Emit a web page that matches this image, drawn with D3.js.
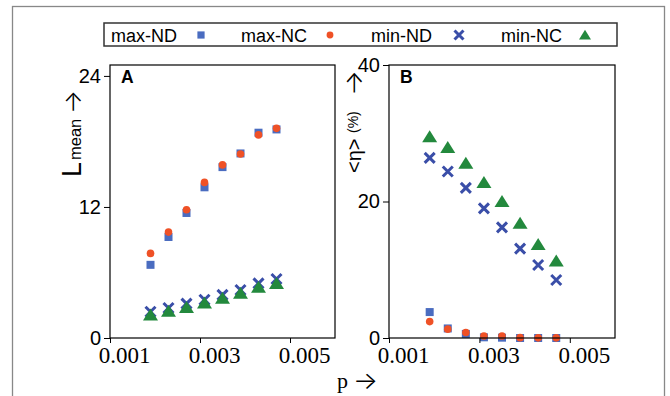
<!DOCTYPE html>
<html>
<head>
<meta charset="utf-8">
<script src="https://cdn.jsdelivr.net/npm/d3@7"></script>
<style>
  body { margin: 0; background: #fff; }
  svg { display: block; }
</style>
</head>
<body>
<svg id="chart" width="670" height="396"></svg>
<script>
// data
const p = [0.0019, 0.0023, 0.0027, 0.0031, 0.0035, 0.0039, 0.0043, 0.0047];

// panel A: L_mean
const LmaxND = [6.7, 9.25, 11.45, 13.8, 15.65, 16.9, 18.8, 19.1];
const LmaxNC = [7.75, 9.7, 11.75, 14.25, 15.85, 16.85, 18.6, 19.2];
const LminND = [2.4, 2.75, 3.15, 3.5, 3.95, 4.4, 5.0, 5.4];
const LminNC = [2.1, 2.45, 2.8, 3.2, 3.65, 4.1, 4.65, 5.0];

// panel B: <eta> (%)
const EmaxND = [3.8, 1.4, 0.6, 0.1, 0.05, 0, 0, 0];
const EmaxNC = [2.4, 1.3, 0.8, 0.3, 0.3, 0.05, 0.02, 0.02];
const EminND = [26.4, 24.4, 22.0, 19.0, 16.2, 13.1, 10.7, 8.5];
const EminNC = [29.5, 27.9, 25.6, 22.8, 20.0, 16.8, 13.7, 11.3];

const seriesNames = ["max-ND", "max-NC", "min-ND", "min-NC"];
const xTicks = [0.001, 0.003, 0.005];
const yTicksA = [0, 12, 24];
const yTicksB = [0, 20, 40];

const SANS = "'Liberation Sans', Arial, Helvetica, sans-serif";
const SERIF = "'Liberation Serif', 'Times New Roman', serif";
const ARROW = "Inter, 'Noto Sans', 'DejaVu Sans', sans-serif";

const colors = {
    "max-ND": "#4a6cc0",
    "max-NC": "#ef5126",
    "min-ND": "#3a4ea8",
    "min-NC": "#23893d"
};

const svg = d3.select("#chart");

// outer frame (runs off the bottom of the picture)
svg.append("rect")
    .attr("x", 12.5).attr("y", 6.5)
    .attr("width", 652).attr("height", 420)
    .attr("fill", "none")
    .attr("stroke", "#888")
    .attr("stroke-width", 1.3);

// draw one marker of a series at (0,0) in g
function marker(g, name, big) {
    const s = big ? 1 : 0.9;
    if (name === "max-ND") {
        g.append("rect")
            .attr("x", -4 * s).attr("y", -4 * s)
            .attr("width", 8 * s).attr("height", 8 * s)
            .attr("fill", colors[name]);
    } else if (name === "max-NC") {
        g.append("circle").attr("r", 3.8 * s).attr("fill", colors[name]);
    } else if (name === "min-ND") {
        const r = 5 * s;
        g.append("path")
            .attr("d", `M${-r},${-r}L${r},${r}M${-r},${r}L${r},${-r}`)
            .attr("stroke", colors[name])
            .attr("stroke-width", 3)
            .attr("fill", "none");
    } else {
        const k = big ? 1 : 0.8;
        g.append("path")
            .attr("d", `M0,${-6.5 * k}L${7.5 * k},${5.5 * k}L${-7.5 * k},${5.5 * k}Z`)
            .attr("fill", colors[name]);
    }
}

function panel(opts) {
    const x = d3.scaleLinear().domain([0.001, 0.006]).range([opts.left, opts.right]);
    const y = d3.scaleLinear().domain([0, opts.ymax]).range([338, 65]);

    const g = svg.append("g");

    // points
    opts.series.forEach((vals, i) => {
        const name = seriesNames[i];
        vals.forEach((v, j) => {
            const m = g.append("g")
                .attr("transform", `translate(${x(p[j])},${y(v)})`);
            marker(m, name, true);
        });
    });

    // box
    g.append("rect")
        .attr("x", opts.left).attr("y", 65)
        .attr("width", opts.right - opts.left).attr("height", 338 - 65)
        .attr("fill", "none")
        .attr("stroke", "#000")
        .attr("stroke-width", 1.2);

    const ya = g.append("g")
        .attr("transform", `translate(${opts.left},0)`)
        .call(d3.axisLeft(y).tickValues(opts.yticks).tickSize(6).tickPadding(3));
    ya.select(".domain").remove();
    ya.selectAll("text")
        .attr("font-family", SANS)
        .attr("font-size", 20)
        .attr("fill", "#000");

    const xa = g.append("g")
        .attr("transform", "translate(0,338)")
        .call(d3.axisBottom(x).tickValues(xTicks).tickFormat(d3.format(".3f")).tickSize(5).tickPadding(4));
    xa.select(".domain").remove();
    xa.selectAll("text")
        .attr("font-family", SERIF)
        .attr("font-size", 23)
        .attr("dx", 14)
        .attr("fill", "#000");

    g.append("text")
        .attr("x", opts.left + 11).attr("y", 83)
        .attr("font-family", SANS)
        .attr("font-weight", "bold")
        .attr("font-size", 17.5)
        .text(opts.tag);
}

panel({ left: 110, right: 335, ymax: 25, yticks: yTicksA, tag: "A",
        series: [LmaxND, LmaxNC, LminND, LminNC] });
panel({ left: 389, right: 615, ymax: 40, yticks: yTicksB, tag: "B",
        series: [EmaxND, EmaxNC, EminND, EminNC] });

// thin long arrow as text, stretched to a given length
function arrow(parent, x, y, len, size) {
    return parent.append("text")
        .attr("x", x).attr("y", y)
        .attr("font-family", ARROW)
        .attr("font-weight", 300)
        .attr("font-size", size)
        .attr("textLength", len)
        .attr("lengthAdjust", "spacingAndGlyphs")
        .text("\u2192");
}

// y label A: L_mean ->
const la = svg.append("g").attr("transform", "translate(81,177) rotate(-90)")
    .attr("font-family", SANS).attr("fill", "#000");
la.append("text").attr("x", 0).attr("y", 0).attr("font-size", 27).text("L");
la.append("text").attr("x", 17).attr("y", 0).attr("font-size", 16.5).text("mean");
arrow(la, 63, 0, 24, 24);

// y label B: <eta>(%) ->
const lb = svg.append("g").attr("transform", "translate(361,173) rotate(-90)")
    .attr("font-family", SANS).attr("fill", "#000");
lb.append("text").attr("x", 0).attr("y", 0).attr("font-size", 20).text("<\u03b7>");
lb.append("text").attr("x", 40).attr("y", -3).attr("font-size", 14).text("(%)");
arrow(lb, 77, 1, 26, 24);

// x label
svg.append("text")
    .attr("x", 337).attr("y", 388)
    .attr("font-family", SERIF)
    .attr("font-size", 22)
    .text("p");
arrow(svg, 353, 389, 25, 24);

// legend
svg.append("rect")
    .attr("x", 104).attr("y", 23)
    .attr("width", 513).attr("height", 23)
    .attr("fill", "#fff")
    .attr("stroke", "#333")
    .attr("stroke-width", 1.5);

const legendTextX = [111, 241, 371, 501];
const legendMarkX = [201, 330, 459, 585];
seriesNames.forEach((name, i) => {
    svg.append("text")
        .attr("x", legendTextX[i]).attr("y", 41.5)
        .attr("font-family", SANS)
        .attr("font-size", 18)
        .text(name);
    const m = svg.append("g").attr("transform", `translate(${legendMarkX[i]},35)`);
    marker(m, name, false);
});
</script>
</body>
</html>
